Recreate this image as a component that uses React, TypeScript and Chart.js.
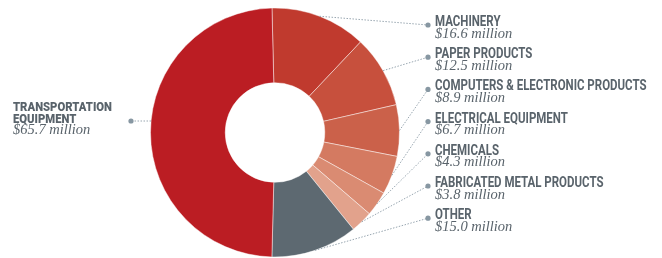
import React, { useEffect, useRef } from "react";
import { Chart, registerables } from "chart.js";

Chart.register(...registerables);

const categories = [
  "MACHINERY",
  "PAPER PRODUCTS",
  "COMPUTERS & ELECTRONIC PRODUCTS",
  "ELECTRICAL EQUIPMENT",
  "CHEMICALS",
  "FABRICATED METAL PRODUCTS",
  "OTHER",
  "TRANSPORTATION EQUIPMENT",
];
const values = [16.6, 12.5, 8.9, 6.7, 4.3, 3.8, 15.0, 65.7];
const valueLabels = values.map((v) => `$${v.toFixed(1)} million`);
const colors = ["#C03A2E", "#C7503D", "#CB614A", "#D47A61", "#DA8B72", "#E2A28C", "#5D6971", "#BB1D23"];

const TEXT = "#59636B";
const DOT = "#8797A2";
const LINE = "#98A6B0";
const NAME_FONT = 'bold 14px Roboto, "DejaVu Sans Condensed", sans-serif';
const LEFT_NAME_FONT = '900 12.5px Roboto, "DejaVu Sans Condensed", sans-serif';
const VALUE_FONT = 'italic 14.5px "Liberation Serif", "DejaVu Serif", serif';

function drawName(ctx: CanvasRenderingContext2D, text: string, x: number, y: number, font: string, squeeze: number) {
  ctx.save();
  ctx.font = font;
  ctx.translate(x, y);
  ctx.scale(squeeze, 1);
  ctx.fillText(text, 0, 0);
  ctx.restore();
}

const labelPlugin = {
  id: "labels",
  afterDraw(chart: any) {
    const ctx = chart.ctx as CanvasRenderingContext2D;
    const meta = chart.getDatasetMeta(0);
    const rightX = 435;
    const dotX = 428;
    meta.data.forEach((arc: any, i: number) => {
      const { x, y, startAngle, endAngle, outerRadius } = arc.getProps(
        ["x", "y", "startAngle", "endAngle", "outerRadius"],
        true
      );
      let px: number, py: number, tx: number, ty: number;
      const isLeft = i === categories.length - 1;
      if (!isLeft) {
        const mid = (startAngle + endAngle) / 2;
        px = x + Math.cos(mid) * outerRadius;
        py = y + Math.sin(mid) * outerRadius;
        tx = dotX;
        ty = 25 + i * 32.2;
      } else {
        tx = 131;
        ty = 121;
        const dy = ty - y;
        px = x - Math.sqrt(outerRadius * outerRadius - dy * dy);
        py = ty;
      }
      ctx.save();
      ctx.strokeStyle = LINE;
      ctx.lineWidth = 1;
      ctx.setLineDash([1.5, 1.5]);
      ctx.beginPath();
      ctx.moveTo(px, py);
      ctx.lineTo(tx, ty);
      ctx.stroke();
      ctx.setLineDash([]);
      ctx.fillStyle = DOT;
      ctx.beginPath();
      ctx.arc(tx, ty, 2.6, 0, Math.PI * 2);
      ctx.fill();

      ctx.fillStyle = TEXT;
      ctx.textBaseline = "alphabetic";
      ctx.textAlign = "left";
      if (!isLeft) {
        const base = 26 + i * 32.2;
        drawName(ctx, categories[i], rightX, base, NAME_FONT, 0.82);
        ctx.font = VALUE_FONT;
        ctx.fillText(valueLabels[i], rightX, base + 11.5);
      } else {
        const words = categories[i].split(" ");
        ctx.font = LEFT_NAME_FONT;
        const w = ctx.measureText(words[0]).width;
        const sq = 99 / w;
        drawName(ctx, words[0], 13, 111, LEFT_NAME_FONT, sq);
        drawName(ctx, words.slice(1).join(" "), 13, 122.5, LEFT_NAME_FONT, sq);
        ctx.font = VALUE_FONT;
        ctx.fillText(valueLabels[i], 13, 134);
      }
      ctx.restore();
    });
  },
};

export default function App() {
  const ref = useRef<HTMLCanvasElement>(null);
  useEffect(() => {
    document.body.style.margin = "0";
    const chart = new Chart(ref.current!, {
      type: "doughnut",
      data: {
        labels: categories,
        datasets: [
          {
            data: values,
            backgroundColor: colors,
            borderColor: "rgba(255,255,255,0.45)",
            borderWidth: 1,
          },
        ],
      },
      options: {
        responsive: false,
        animation: false,
        cutout: "40%",
        rotation: -1.4,
        layout: { padding: { left: 150, right: 262, top: 7, bottom: 0 } },
        plugins: { legend: { display: false }, tooltip: { enabled: false } },
      },
      plugins: [labelPlugin],
    });
    return () => chart.destroy();
  }, []);
  return (
    <div style={{ width: 662, height: 258 }}>
      <canvas ref={ref} width={662} height={258} />
    </div>
  );
}
